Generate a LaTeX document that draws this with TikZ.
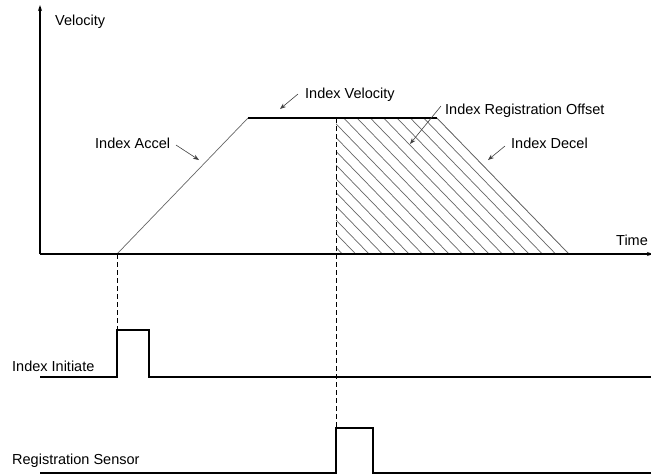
\documentclass[tikz,border=0pt]{standalone}
\usepackage{fontspec}
\setmainfont{Liberation Sans}
\usetikzlibrary{arrows.meta}
\begin{document}
\begin{tikzpicture}[x=1pt,y=-1pt,
  axis/.style={line width=1.2pt,-{Stealth[length=6pt,width=4pt]}},
  sig/.style={line width=1.2pt},
  thin gray/.style={line width=0.7pt,black!60},
  dashline/.style={line width=1pt,dash pattern=on 5pt off 3pt},
  note/.style={line width=0.6pt,black!75,-{Stealth[length=6pt,width=4.5pt]}},
  lbl/.style={anchor=base west,inner sep=0pt,font=\fontsize{14.5}{17}\selectfont}]
\useasboundingbox (0,0) rectangle (651,475);
% key points
\coordinate (O) at (40,254);
\coordinate (Vtop) at (40,5);
\coordinate (Tend) at (653,254);
\coordinate (A0) at (117,254);
\coordinate (A1) at (248,118);
\coordinate (R1) at (336,118);
\coordinate (R0) at (336,254);
\coordinate (D1) at (437,118);
\coordinate (D0) at (569,254);
% hatching
\begin{scope}
\clip (R1) -- (D1) -- (D0) -- (R0) -- cycle;
\foreach \k in {0,...,18}{
  \draw[thin gray] ({569-13.33*\k},254) -- ({569-13.33*\k-264},{254-272});
}
\end{scope}
\draw[thin gray] (D1) -- (D0);
\draw[thin gray] (A0) -- (A1);
\draw[sig] (A1) -- (D1);
% axes
\draw[axis] (O) -- (Vtop);
\draw[axis] (O) -- (Tend);
% dashed verticals
\coordinate (P1top) at (117,330);
\coordinate (P2top) at (336,428);
\draw[dashline] (A0) -- (P1top);
\draw[dashline] (R1) -- (P2top);
% index initiate signal
\coordinate (S1a) at (40,377);
\coordinate (S1b) at (117,377);
\coordinate (S1c) at (149,330);
\coordinate (S1d) at (651,377);
\draw[sig] (S1a) -- (S1b) -- (P1top) -- (S1c) -- (149,377) -- (S1d);
% registration sensor signal
\coordinate (S2a) at (40,473);
\coordinate (S2b) at (336,473);
\coordinate (S2c) at (373,428);
\coordinate (S2d) at (651,473);
\draw[sig] (S2a) -- (S2b) -- (P2top) -- (S2c) -- (373,473) -- (S2d);
% labels
\node[lbl] (vel) at (55,25.5) {Velocity};
\node[lbl] (time) at (616,245) {Time};
\node[lbl] (acc) at (95,148) {Index Accel};
\node[lbl] (iv) at (305,98) {Index Velocity};
\node[lbl] (iro) at (445,114) {Index Registration Offset};
\node[lbl] (dec) at (511,148) {Index Decel};
\node[lbl] (ii) at (12,371) {Index Initiate};
\node[lbl] (rs) at (12,464) {Registration Sensor};
% annotation arrows
\coordinate (accS) at (176,145); \coordinate (accE) at (199,160);
\coordinate (ivS) at (298,94); \coordinate (ivE) at (280,109);
\coordinate (iroS) at (441,106); \coordinate (iroE) at (410,144);
\coordinate (decS) at (505,146); \coordinate (decE) at (488,160);
\draw[note] (accS) -- (accE);
\draw[note] (ivS) -- (ivE);
\draw[note] (iroS) -- (iroE);
\draw[note] (decS) -- (decE);
\end{tikzpicture}
\end{document}
